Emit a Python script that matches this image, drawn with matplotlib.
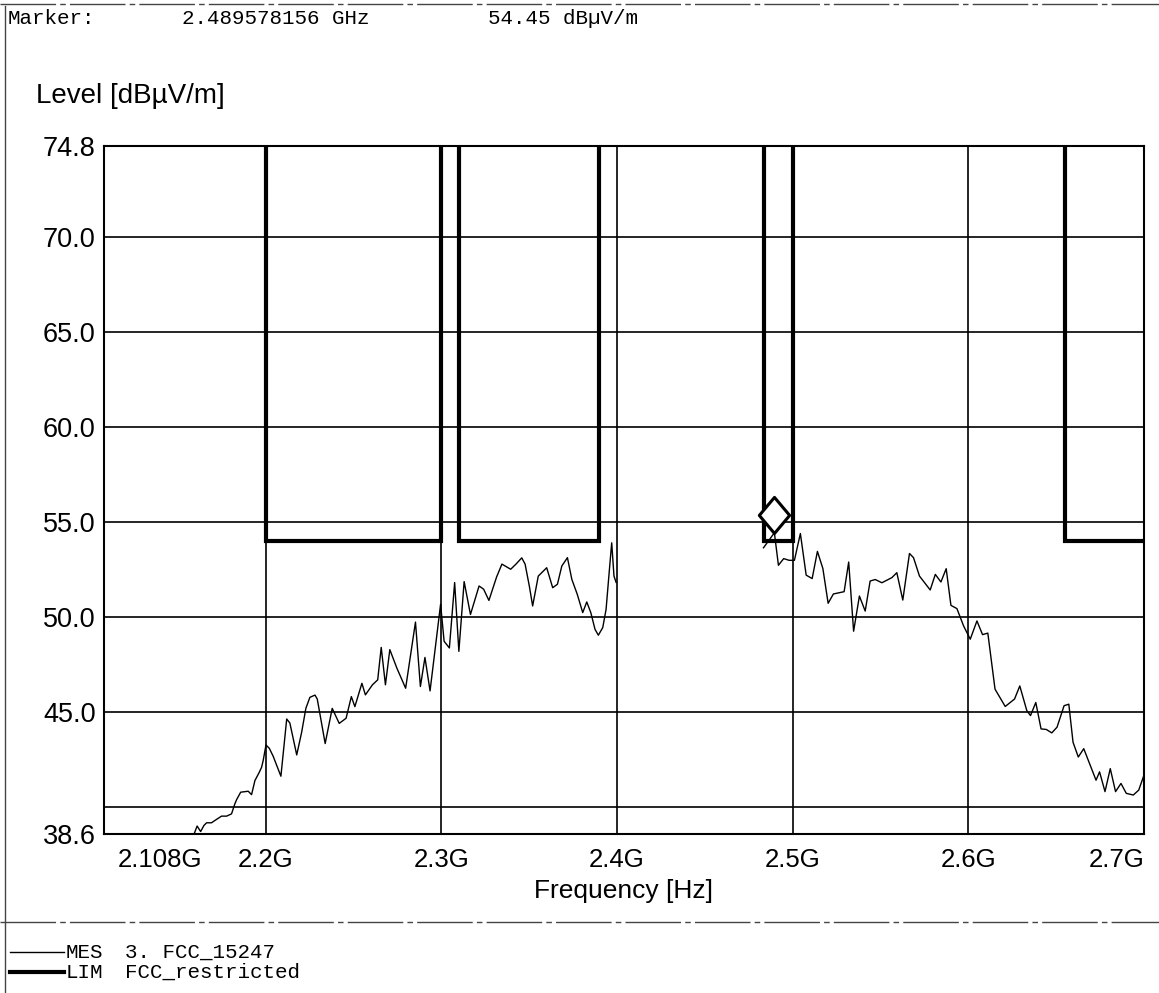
import numpy as np
import matplotlib.pyplot as plt
from matplotlib.path import Path
from matplotlib.lines import Line2D
import matplotlib.transforms as mtransforms

# measured trace "MES 3. FCC_15247", frequency in GHz, level in dBuV/m
mes_freq_1 = [2.1585, 2.1597, 2.1610, 2.1630, 2.1649, 2.1664, 2.1692, 2.1711, 2.1749, 2.1778,
              2.1806, 2.1825, 2.1835, 2.1858, 2.1901, 2.1920, 2.1939, 2.1964, 2.1977, 2.1986,
              2.2002, 2.2021, 2.2043, 2.2087, 2.2120, 2.2138, 2.2177, 2.2205, 2.2229, 2.2252,
              2.2281, 2.2294, 2.2339, 2.2379, 2.2419, 2.2458, 2.2488, 2.2508, 2.2548, 2.2568,
              2.2608, 2.2638, 2.2658, 2.2682, 2.2707, 2.2747, 2.2797, 2.2853, 2.2881, 2.2907,
              2.2936, 2.2996, 2.3016, 2.3046, 2.3076, 2.3100, 2.3130, 2.3166, 2.3215, 2.3241,
              2.3271, 2.3315, 2.3345, 2.3395, 2.3425, 2.3458, 2.3477, 2.3501, 2.3520, 2.3552,
              2.3600, 2.3634, 2.3661, 2.3686, 2.3718, 2.3743, 2.3774, 2.3805, 2.3828, 2.3851,
              2.3875, 2.3894, 2.3919, 2.3938, 2.3957, 2.3970, 2.3983, 2.3995]
mes_level_1 = [38.45, 38.70, 39.02, 38.73, 39.05, 39.19, 39.19, 39.31, 39.54, 39.54,
               39.66, 40.19, 40.41, 40.80, 40.85, 40.67, 41.41, 41.85, 42.11, 42.46,
               43.28, 43.11, 42.69, 41.64, 44.65, 44.44, 42.76, 43.95, 45.21, 45.79,
               45.91, 45.70, 43.36, 45.21, 44.42, 44.69, 45.83, 45.30, 46.53, 45.92,
               46.45, 46.71, 48.42, 46.45, 48.30, 47.33, 46.27, 49.75, 46.36, 47.89,
               46.13, 50.69, 48.74, 48.39, 51.83, 48.21, 51.88, 50.15, 51.65, 51.48,
               50.89, 52.13, 52.80, 52.53, 52.80, 53.13, 52.80, 51.65, 50.60, 52.17,
               52.61, 51.56, 51.74, 52.70, 53.14, 52.00, 51.21, 50.25, 50.81, 50.25,
               49.37, 49.06, 49.46, 50.42, 52.52, 53.92, 52.17, 51.84]

mes_freq_2 = [2.4834, 2.4896, 2.4919, 2.4949, 2.4980, 2.5010, 2.5044, 2.5077, 2.5111, 2.5141,
              2.5172, 2.5202, 2.5232, 2.5293, 2.5319, 2.5347, 2.5380, 2.5413, 2.5441, 2.5470,
              2.5508, 2.5565, 2.5593, 2.5627, 2.5665, 2.5688, 2.5722, 2.5783, 2.5812, 2.5844,
              2.5874, 2.5901, 2.5935, 2.5973, 2.6011, 2.6049, 2.6081, 2.6111, 2.6152, 2.6210,
              2.6263, 2.6293, 2.6333, 2.6354, 2.6384, 2.6414, 2.6444, 2.6475, 2.6505, 2.6545,
              2.6572, 2.6596, 2.6626, 2.6657, 2.6727, 2.6747, 2.6778, 2.6808, 2.6838, 2.6869,
              2.6899, 2.6939, 2.6970, 2.7000]
mes_level_2 = [53.66, 54.45, 52.74, 53.09, 53.00, 53.00, 54.41, 52.22, 52.04, 53.47,
               52.57, 50.74, 51.23, 51.35, 52.91, 49.27, 51.12, 50.33, 51.91, 51.99,
               51.82, 52.09, 52.35, 50.91, 53.36, 53.14, 52.17, 51.44, 52.26, 51.86,
               52.56, 50.63, 50.46, 49.55, 48.85, 49.81, 49.09, 49.17, 46.22, 45.31,
               45.70, 46.39, 45.09, 44.83, 45.52, 44.13, 44.10, 43.92, 44.22, 45.35,
               45.43, 43.43, 42.65, 43.09, 41.43, 41.87, 40.83, 42.04, 40.83, 41.26,
               40.74, 40.65, 40.91, 41.70]

# limit "LIM FCC_restricted": restricted bands in GHz, limit level inside them
band_start = [2.2, 2.31, 2.4835, 2.655]
band_stop = [2.3, 2.39, 2.5, 2.9]
band_limit = 54.0
off_scale = 100.0

marker_freq = 2.489578156
marker_level = 54.45

y_ticks = [38.6, 45.0, 50.0, 55.0, 60.0, 65.0, 70.0, 74.8]
y_grid = [40, 45, 50, 55, 60, 65, 70]
x_ticks = [2.108, 2.2, 2.3, 2.4, 2.5, 2.6, 2.7]
x_labels = ['2.108G', '2.2G', '2.3G', '2.4G', '2.5G', '2.6G', '2.7G']
x_grid = [2.2, 2.3, 2.4, 2.5, 2.6]

# build the step line of the limit
lim_freq, lim_level = [], []
for a, b in zip(band_start, band_stop):
    lim_freq += [a, a, b, b]
    lim_level += [off_scale, band_limit, band_limit, off_scale]

W, H = 1159, 993
sans = 'Liberation Sans'
mono = 'Liberation Mono'

fig = plt.figure(figsize=(W / 100, H / 100), dpi=100)
ax = fig.add_axes([104 / W, 1 - 834 / H, (1144 - 104) / W, (834 - 146) / H])

for g in y_grid:
    ax.axhline(g, color='black', lw=1.2, zorder=1)
for g in x_grid:
    ax.axvline(g, color='black', lw=1.2, zorder=1)

ax.plot(mes_freq_1, mes_level_1, color='black', lw=1.0, zorder=3)
ax.plot(mes_freq_2, mes_level_2, color='black', lw=1.0, zorder=3)
ax.plot(lim_freq, lim_level, color='black', lw=3.0, solid_joinstyle='miter', zorder=4)

# diamond marker sitting on the marker point
diamond = Path([(0, 0), (-0.42, 0.5), (0, 1.0), (0.42, 0.5), (0, 0)],
               [Path.MOVETO, Path.LINETO, Path.LINETO, Path.LINETO, Path.CLOSEPOLY])
ax.plot([marker_freq], [marker_level], marker=diamond, markersize=52, markerfacecolor='white',
        markeredgecolor='black', markeredgewidth=2.2, linestyle='none', zorder=6, clip_on=False)

ax.set_xlim(2.108, 2.7)
ax.set_ylim(38.6, 74.8)
ax.set_yticks(y_ticks)
ax.set_yticklabels(['%.1f' % v for v in y_ticks], fontfamily=sans, fontsize=19.5)
ax.set_xticks(x_ticks)
ax.set_xticklabels(x_labels, fontfamily=sans, fontsize=18.5)
ax.tick_params(axis='both', length=0)
ax.tick_params(axis='y', pad=6)
ax.tick_params(axis='x', pad=10)
for s in ax.spines.values():
    s.set_linewidth(1.5)

labels = ax.get_xticklabels()
labels[0].set_horizontalalignment('left')
labels[0].set_transform(labels[0].get_transform() + mtransforms.ScaledTranslation(14 / 100, 0, fig.dpi_scale_trans))
labels[-1].set_horizontalalignment('right')

ax.set_xlabel('Frequency [Hz]', fontfamily=sans, fontsize=19, labelpad=5)

fig.text(36 / W, 1 - 96 / H, 'Level [dBµV/m]', fontfamily=sans, fontsize=20, va='center')
fig.text(8 / W, 1 - 19 / H, 'Marker:', fontfamily=mono, fontsize=15, va='center')
fig.text(182 / W, 1 - 19 / H, '2.489578156 GHz', fontfamily=mono, fontsize=15, va='center')
fig.text(488 / W, 1 - 19 / H, '54.45 dBµV/m', fontfamily=mono, fontsize=15, va='center')

# legend at bottom
y_mes, y_lim = 952, 972
fig.add_artist(Line2D([10 / W, 64 / W], [1 - y_mes / H, 1 - y_mes / H], color='black', lw=1.0))
fig.add_artist(Line2D([10 / W, 64 / W], [1 - y_lim / H, 1 - y_lim / H], color='black', lw=3.0))
fig.text(66 / W, 1 - y_mes / H, 'MES', fontfamily=mono, fontsize=15, va='center')
fig.text(125 / W, 1 - y_mes / H, '3. FCC_15247', fontfamily=mono, fontsize=15, va='center')
fig.text(66 / W, 1 - y_lim / H, 'LIM', fontfamily=mono, fontsize=15, va='center')
fig.text(125 / W, 1 - y_lim / H, 'FCC_restricted', fontfamily=mono, fontsize=15, va='center')

# frame lines of the print-out
frame_kw = dict(color='#444444', lw=1.0, linestyle=(0, (40, 3, 4, 3)))
fig.add_artist(Line2D([0, 1], [1 - 4 / H, 1 - 4 / H], **frame_kw))
fig.add_artist(Line2D([0, 1], [1 - 922 / H, 1 - 922 / H], **frame_kw))
fig.add_artist(Line2D([5 / W, 5 / W], [0, 1 - 6 / H], color='#444444', lw=1.0))

fig.savefig('out.png', dpi=100)
